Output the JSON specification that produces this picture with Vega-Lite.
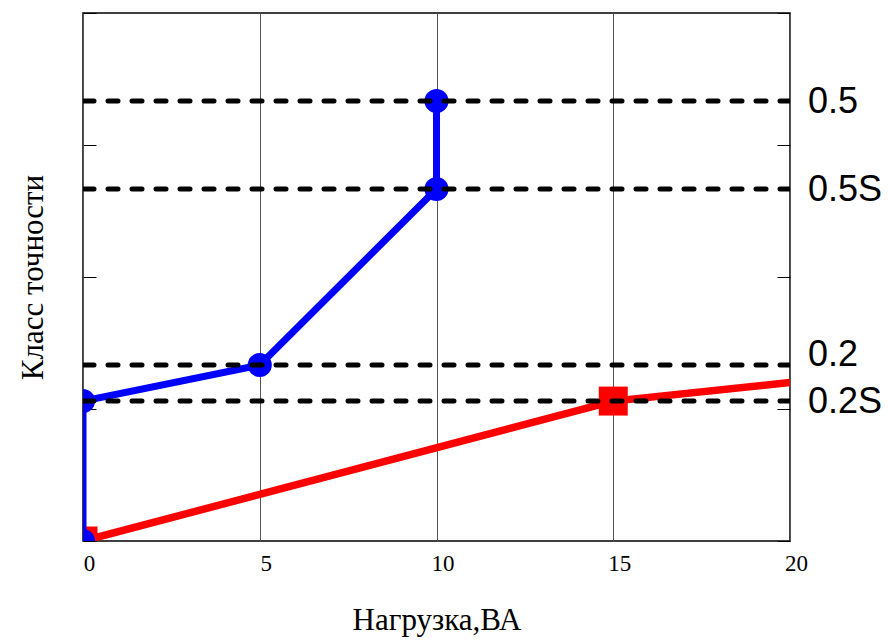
{
  "$schema": "https://vega.github.io/schema/vega-lite/v6.json",
  "width": 707,
  "height": 528,
  "autosize": {"type": "none"},
  "padding": {"left": 83, "top": 13, "right": 98, "bottom": 102},
  "background": "white",
  "config": {
    "view": {"stroke": "#000", "strokeWidth": 1.5},
    "axis": {"labelColor": "#000", "titleColor": "#000", "tickColor": "#000"}
  },
  "datasets": {
    "curves": [
      {"curve": "upper", "i": 1, "load": 0, "pos": 0, "marked": true},
      {"curve": "upper", "i": 2, "load": 0, "pos": 1.06, "marked": true},
      {"curve": "upper", "i": 3, "load": 5, "pos": 1.333, "marked": true},
      {"curve": "upper", "i": 4, "load": 10, "pos": 2.667, "marked": true},
      {"curve": "upper", "i": 5, "load": 10, "pos": 3.333, "marked": true},
      {"curve": "lower", "i": 1, "load": 0, "pos": 0, "marked": true},
      {"curve": "lower", "i": 2, "load": 15, "pos": 1.06, "marked": true},
      {"curve": "lower", "i": 3, "load": 20, "pos": 1.2, "marked": false}
    ],
    "classes": [
      {"label": "0.5", "level": 3.333},
      {"label": "0.5S", "level": 2.667},
      {"label": "0.2", "level": 1.333},
      {"label": "0.2S", "level": 1.06}
    ]
  },
  "resolve": {"axis": {"y": "independent"}},
  "layer": [
    {
      "data": {"name": "curves"},
      "transform": [{"filter": "datum.curve === 'lower'"}],
      "mark": {"type": "line", "color": "#ff0000", "strokeWidth": 7.5, "clip": true},
      "encoding": {
        "x": {
          "field": "load", "type": "quantitative",
          "scale": {"domain": [0, 20], "nice": false, "zero": false},
          "axis": {
            "title": "Нагрузка,ВА",
            "values": [0, 5, 10, 15, 20],
            "grid": true, "gridColor": "#555", "gridWidth": 1,
            "ticks": false, "domain": false,
            "labelFlush": false, "labelOverlap": false,
            "labelFont": "Liberation Serif", "labelFontSize": 23,
            "labelPadding": 11, "labelOffset": 6,
            "titleFont": "Liberation Serif", "titleFontSize": 31, "titleFontWeight": "normal",
            "titleY": 88, "titleBaseline": "alphabetic"
          }
        },
        "y": {
          "field": "pos", "type": "quantitative",
          "scale": {"domain": [0, 4], "nice": false, "zero": false},
          "axis": {
            "orient": "left",
            "title": "Класс точности",
            "values": [0, 1, 2, 3, 4],
            "labels": false, "grid": false, "domain": false,
            "ticks": true, "tickSize": -13, "tickWidth": 1,
            "titleFont": "Liberation Serif", "titleFontSize": 31, "titleFontWeight": "normal",
            "titleAngle": 270, "titleX": -41, "titleBaseline": "alphabetic"
          }
        },
        "order": {"field": "i", "type": "quantitative"}
      }
    },
    {
      "data": {"name": "curves"},
      "transform": [{"filter": "datum.curve === 'lower' && datum.marked"}],
      "mark": {"type": "point", "shape": "square", "filled": true, "size": 841, "color": "#ff0000", "opacity": 1, "clip": true},
      "encoding": {
        "x": {"field": "load", "type": "quantitative"},
        "y": {"field": "pos", "type": "quantitative", "axis": null}
      }
    },
    {
      "data": {"name": "curves"},
      "transform": [{"filter": "datum.curve === 'upper'"}],
      "mark": {"type": "line", "color": "#0000ff", "strokeWidth": 7, "clip": true},
      "encoding": {
        "x": {"field": "load", "type": "quantitative"},
        "y": {"field": "pos", "type": "quantitative", "axis": null},
        "order": {"field": "i", "type": "quantitative"}
      }
    },
    {
      "data": {"name": "curves"},
      "transform": [{"filter": "datum.curve === 'upper' && datum.marked"}],
      "mark": {"type": "point", "shape": "circle", "filled": true, "size": 580, "color": "#0000ff", "opacity": 1, "clip": true},
      "encoding": {
        "x": {"field": "load", "type": "quantitative"},
        "y": {"field": "pos", "type": "quantitative", "axis": null}
      }
    },
    {
      "data": {"name": "classes"},
      "mark": {"type": "rule", "color": "#000", "strokeWidth": 5, "strokeDash": [10, 14], "strokeCap": "round", "clip": true},
      "encoding": {
        "y": {
          "field": "level", "type": "quantitative",
          "axis": {
            "orient": "right",
            "title": null,
            "values": [0, 1, 2, 3, 4],
            "labels": false, "grid": false, "domain": false,
            "ticks": true, "tickSize": -13, "tickWidth": 1
          }
        }
      }
    },
    {
      "data": {"name": "classes"},
      "transform": [{"filter": "datum.label !== '0.2'"}],
      "mark": {"type": "text", "align": "left", "baseline": "middle", "dx": 18, "dy": 1, "font": "Liberation Sans", "fontSize": 36, "color": "#000"},
      "encoding": {
        "x": {"datum": 20},
        "y": {"field": "level", "type": "quantitative", "axis": null},
        "text": {"field": "label"}
      }
    },
    {
      "data": {"name": "classes"},
      "transform": [{"filter": "datum.label === '0.2'"}],
      "mark": {"type": "text", "align": "left", "baseline": "middle", "dx": 18, "dy": -10, "font": "Liberation Sans", "fontSize": 36, "color": "#000"},
      "encoding": {
        "x": {"datum": 20},
        "y": {"field": "level", "type": "quantitative", "axis": null},
        "text": {"field": "label"}
      }
    }
  ]
}
